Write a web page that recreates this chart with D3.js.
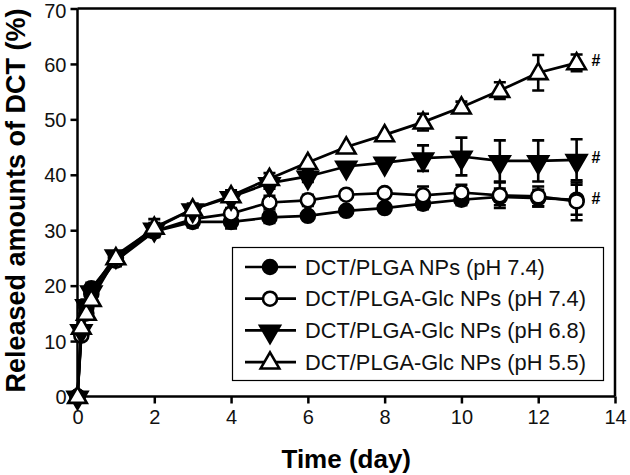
<!DOCTYPE html>
<html><head><meta charset="utf-8">
<script src="https://cdn.jsdelivr.net/npm/d3@7"></script>
<style>body{margin:0;background:#fff}svg{display:block}text{font-family:"Liberation Sans",Arial,sans-serif}</style>
</head><body><svg id="c" width="630" height="475"></svg>
<script>
const days = [0, 0.1, 0.23, 0.36, 1, 2, 3, 4, 5, 6, 7, 8, 9, 10, 11, 12, 13];
const seriesNames = ["DCT/PLGA NPs (pH 7.4)", "DCT/PLGA-Glc NPs (pH 7.4)", "DCT/PLGA-Glc NPs (pH 6.8)", "DCT/PLGA-Glc NPs (pH 5.5)"];
const plgaPH74 = [0, 11.5, 16, 19.5, 25, 29.8, 31.5, 31.5, 32.3, 32.6, 33.5, 34, 34.8, 35.5, 36, 35.8, 35.5];
const plgaPH74Err = [0, 0.8, 1, 1, 0.8, 1, 1, 1.2, 1, 0.8, 0.8, 0.8, 1, 1, 1.5, 1.5, 2.7];
const glcPH74 = [0, 11, 15, 18.5, 24.5, 29.8, 32, 33, 35, 35.4, 36.4, 36.7, 36.3, 36.8, 36.3, 36.1, 35.2];
const glcPH74Err = [0, 0.8, 1, 1, 1, 1, 1, 1, 1.2, 1, 0.8, 0.8, 1.6, 1.4, 2.3, 1.8, 3.4];
const glcPH68 = [0, 12, 16.5, 19, 25.5, 30.3, 33.8, 36, 38.5, 39.7, 41.5, 42.2, 43, 43.3, 42.5, 42.5, 42.7];
const glcPH68Err = [0, 0.8, 1, 1, 0.8, 1, 0.8, 0.8, 1, 1, 0.8, 0.8, 2.3, 3.4, 3.7, 3.7, 3.7];
const glcPH55 = [0, 12.5, 15, 17.5, 25, 30.5, 33.8, 36.2, 39.3, 42.2, 45, 47.2, 49.5, 52.2, 55.2, 58.4, 60.2];
const glcPH55Err = [0, 0.8, 1, 1, 0.8, 1.5, 1, 1, 1, 0.8, 0.8, 0.8, 1.5, 1, 1.5, 3.2, 1.5];
const xTicks = [0, 2, 4, 6, 8, 10, 12, 14];
const yTicks = [0, 10, 20, 30, 40, 50, 60, 70];
const xTitle = "Time (day)";
const yTitle = "Released amounts of DCT (%)";
const sigMark = "#";

const svg = d3.select("#c");
const L = 77.5, R = 615, T = 8.5, B = 396.5;
const x = d3.scaleLinear().domain([0, 14]).range([L, R]);
const y = d3.scaleLinear().domain([0, 70]).range([B, T]);

const series = [
  {name: seriesNames[0], v: plgaPH74, e: plgaPH74Err, shape: "circle", fill: "#000"},
  {name: seriesNames[1], v: glcPH74, e: glcPH74Err, shape: "circle", fill: "#fff"},
  {name: seriesNames[2], v: glcPH68, e: glcPH68Err, shape: "down", fill: "#000"},
  {name: seriesNames[3], v: glcPH55, e: glcPH55Err, shape: "up", fill: "#fff"}
];

function marker(g, shape, fill) {
  if (shape === "circle") {
    g.append("circle").attr("r", 7).attr("fill", fill).attr("stroke", "#000").attr("stroke-width", 2.6);
  } else {
    const p = d3.symbol().type(d3.symbolTriangle).size(shape === "down" ? 170 : 150)();
    g.append("path").attr("d", p).attr("fill", fill).attr("stroke", "#000").attr("stroke-width", 2.6)
      .attr("transform", shape === "down" ? "rotate(180) translate(0,-1)" : "translate(0,1)");
  }
}

// axes
const xAxis = svg.append("g").attr("transform", `translate(0,${B})`)
  .call(d3.axisBottom(x).tickValues(xTicks).tickSize(7).tickPadding(6).tickFormat(d3.format("d")));
const yAxis = svg.append("g").attr("transform", `translate(${L},0)`)
  .call(d3.axisLeft(y).tickValues(yTicks).tickSize(7).tickPadding(4).tickFormat(d3.format("d")));
[xAxis, yAxis].forEach(a => {
  a.select(".domain").attr("stroke", "#000").attr("stroke-width", 2.5);
  a.selectAll(".tick line").attr("stroke", "#000").attr("stroke-width", 2.5);
  a.selectAll("text").attr("font-size", 20).attr("fill", "#111").attr("font-family", "Liberation Sans, Arial, sans-serif");
});
yAxis.selectAll(".tick text").attr("dy", d => d === 70 ? "0.45em" : "0.36em");
xAxis.select(".domain").attr("d", `M${L},0H${R}`);
yAxis.select(".domain").attr("d", `M0,${B}V${T}`);
// top and right frame
svg.append("path").attr("d", `M${L},${T}H${R}V${B}`).attr("fill", "none").attr("stroke", "#000").attr("stroke-width", 2.5);

// titles
svg.append("text").attr("x", (L + R) / 2).attr("y", 468).attr("text-anchor", "middle")
  .attr("font-size", 26).attr("font-weight", "bold").text(xTitle);
svg.append("text").attr("transform", `translate(25,${(T + B) / 2 - 2}) rotate(-90)`).attr("text-anchor", "middle")
  .attr("font-size", 27).attr("font-weight", "bold").text(yTitle);

// series
const line = d3.line().x((d, i) => x(days[i])).y(d => y(d));
series.forEach(s => {
  const g = svg.append("g");
  g.append("path").attr("d", line(s.v)).attr("fill", "none").attr("stroke", "#000").attr("stroke-width", 2.7);
  s.v.forEach((v, i) => {
    if (s.e[i] > 0.9) {
      const cx = x(days[i]);
      g.append("path").attr("d", `M${cx},${y(v - s.e[i])}V${y(v + s.e[i])}M${cx - 6},${y(v + s.e[i])}H${cx + 6}M${cx - 6},${y(v - s.e[i])}H${cx + 6}`)
        .attr("stroke", "#000").attr("stroke-width", 2.6).attr("fill", "none");
    }
  });
  s.v.forEach((v, i) => {
    marker(g.append("g").attr("transform", `translate(${x(days[i])},${y(v)})`), s.shape, s.fill);
  });
});

// significance marks
[glcPH55, glcPH68, glcPH74].forEach(arr => {
  svg.append("text").attr("x", x(13) + 15).attr("y", y(arr[arr.length - 1]) + 3).attr("font-size", 16)
    .attr("font-weight", "bold").text(sigMark);
});

// legend
const lg = svg.append("g");
lg.append("rect").attr("x", 232.5).attr("y", 247.5).attr("width", 371).attr("height", 133)
  .attr("fill", "#fff").attr("stroke", "#000").attr("stroke-width", 1.2);
series.forEach((s, i) => {
  const yy = 267 + i * 31.7;
  lg.append("line").attr("x1", 245).attr("x2", 296).attr("y1", yy).attr("y2", yy).attr("stroke", "#000").attr("stroke-width", 2.7);
  marker(lg.append("g").attr("transform", `translate(270,${yy})`), s.shape, s.fill);
  lg.append("text").attr("x", 305).attr("y", yy + 7.5).attr("font-size", 21.8).attr("fill", "#111").text(s.name);
});
</script></body></html>
